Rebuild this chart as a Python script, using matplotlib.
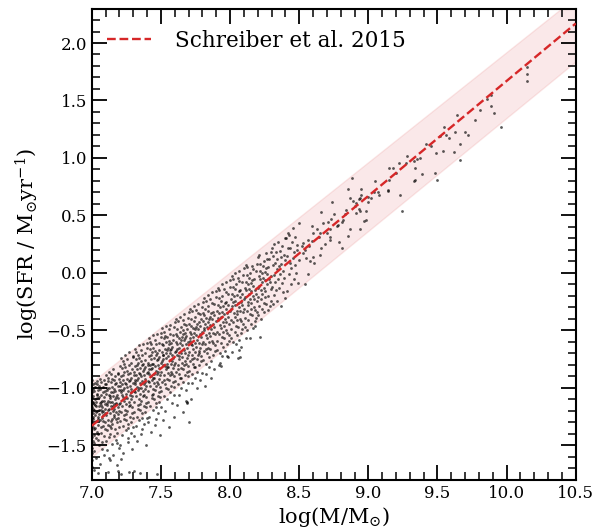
import matplotlib
matplotlib.use("Agg")
import matplotlib.pyplot as plt
import numpy as np

# ---------------- data ----------------
# Schreiber et al. 2015 main-sequence line and its shaded band
line_mass = [7.0, 10.5]
line_sfr = [-1.33, 2.17]
band_mass = [7.0, 10.5]
band_upper = [-0.95, 2.40]
band_lower = [-1.60, 1.84]

# galaxies (log M, log SFR), grouped by mass strips
gal_700 = [(7.002,-1.04),(7.004,-1.31),(7.001,-1.17),(7.006,-0.97),(7.003,-1.52),(7.008,-1.22),(7.005,-1.09),(7.001,-1.43),(7.009,-1.12),(7.003,-1.63),
 (7.012,-1.01),(7.007,-1.27),(7.014,-1.19),(7.002,-0.93),(7.016,-1.36),(7.011,-1.07),(7.004,-1.57),(7.019,-1.14),(7.006,-1.25),(7.021,-0.96),
 (7.013,-1.48),(7.024,-1.10),(7.009,-1.34),(7.027,-1.21),(7.017,-1.03),(7.001,-1.69),(7.029,-1.29),(7.022,-0.99),(7.031,-1.16),(7.018,-1.41),
 (7.034,-1.06),(7.026,-1.24),(7.037,-0.94),(7.008,-1.18),(7.039,-1.38),(7.032,-1.12),(7.042,-1.27),(7.015,-1.55),(7.044,-1.02),(7.036,-1.20),
 (7.047,-1.45),(7.041,-1.09),(7.049,-1.16),(7.028,-1.61),(7.052,-0.98),(7.046,-1.32),(7.054,-1.23),(7.038,-1.05),(7.057,-1.13),(7.051,-1.50),
 (7.059,-0.92),(7.062,-1.28),(7.055,-1.08),(7.064,-1.19),(7.048,-1.74),(7.067,-1.39),(7.061,-1.01),(7.069,-1.15),(7.072,-1.26),(7.066,-0.95),
 (7.074,-1.11),(7.077,-1.47),(7.071,-1.21),(7.079,-1.04),(7.082,-1.33),(7.076,-1.17),(7.084,-0.99),(7.087,-1.58),(7.081,-1.24),(7.089,-1.08),
 (7.092,-1.36),(7.086,-0.93),(7.094,-1.14),(7.097,-1.22),(7.091,-1.42),(7.099,-1.03),(7.096,-1.30),(7.058,-1.66),(7.033,-1.44),(7.073,-1.53),
 (7.005,-1.00),(7.011,-1.13),(7.023,-1.35),(7.043,-1.25),(7.063,-1.12),(7.083,-1.20),(7.007,-1.46),(7.035,-0.97),(7.068,-1.06),(7.093,-0.97),
 (7.003,-1.26),(7.025,-1.15),(7.045,-1.40),(7.065,-1.34),(7.085,-1.11),(7.013,-1.71),(7.053,-1.19),(7.078,-1.29),(7.098,-1.18),(7.001,-1.12)]
gal_floor = [(7.118,-1.73),(7.192,-1.72),(7.214,-1.75),(7.268,-1.73),(7.302,-1.72),(7.347,-1.74),(7.468,-1.75)]
gal_710 = [(7.101,-0.89),(7.103,-1.24),(7.106,-1.05),(7.108,-1.37),(7.104,-0.97),(7.111,-1.15),(7.113,-1.54),(7.109,-1.02),(7.116,-1.28),(7.118,-0.91),
 (7.114,-1.11),(7.121,-1.43),(7.123,-1.06),(7.119,-1.19),(7.126,-0.86),(7.128,-1.33),(7.124,-1.00),(7.131,-1.22),(7.133,-1.63),(7.129,-1.09),
 (7.136,-0.95),(7.138,-1.16),(7.134,-1.40),(7.141,-1.04),(7.143,-1.27),(7.139,-0.88),(7.146,-1.12),(7.148,-1.49),(7.144,-0.99),(7.151,-1.20),
 (7.153,-1.07),(7.149,-1.31),(7.156,-0.84),(7.158,-1.14),(7.154,-1.58),(7.161,-1.01),(7.163,-1.25),(7.159,-0.93),(7.166,-1.10),(7.168,-1.36),
 (7.164,-1.18),(7.171,-0.90),(7.173,-1.45),(7.169,-1.03),(7.176,-1.21),(7.178,-0.96),(7.174,-1.13),(7.181,-1.30),(7.183,-1.67),(7.179,-1.06),
 (7.186,-0.87),(7.188,-1.17),(7.184,-1.39),(7.191,-0.98),(7.193,-1.23),(7.189,-1.09),(7.196,-1.52),(7.198,-0.92),(7.194,-1.14),(7.199,-1.34),
 (7.107,-1.13),(7.117,-0.94),(7.127,-1.18),(7.137,-1.29),(7.147,-0.92),(7.157,-1.24),(7.167,-0.97),(7.177,-1.08),(7.187,-1.26),(7.197,-1.02),
 (7.102,-1.46),(7.122,-1.61),(7.142,-1.35),(7.162,-1.42),(7.182,-1.48),(7.112,-1.00),(7.132,-1.07),(7.152,-1.16),(7.172,-1.27),(7.192,-0.88),
 (7.115,-1.32),(7.135,-1.12),(7.155,-1.04),(7.175,-1.14),(7.195,-1.20)]
gal_720 = [(7.201,-0.81),(7.204,-1.13),(7.206,-0.95),(7.203,-1.29),(7.209,-1.04),(7.211,-0.74),(7.208,-1.21),(7.214,-0.90),(7.216,-1.41),(7.213,-1.02),
 (7.219,-0.83),(7.221,-1.16),(7.218,-0.97),(7.224,-1.33),(7.226,-1.08),(7.223,-0.77),(7.229,-0.93),(7.231,-1.24),(7.228,-1.57),(7.234,-1.00),
 (7.236,-0.86),(7.233,-1.11),(7.239,-0.71),(7.241,-1.19),(7.238,-0.96),(7.244,-1.37),(7.246,-1.05),(7.243,-0.82),(7.249,-1.14),(7.251,-0.92),
 (7.248,-1.28),(7.254,-0.99),(7.256,-0.75),(7.253,-1.09),(7.259,-1.47),(7.261,-0.88),(7.258,-1.20),(7.264,-1.03),(7.266,-0.80),(7.263,-1.31),
 (7.269,-0.94),(7.271,-1.12),(7.268,-0.69),(7.274,-1.06),(7.276,-1.25),(7.273,-0.87),(7.279,-0.98),(7.281,-1.39),(7.278,-1.15),(7.284,-0.78),
 (7.286,-1.01),(7.283,-0.91),(7.289,-1.22),(7.291,-1.53),(7.288,-0.84),(7.294,-1.07),(7.296,-0.73),(7.293,-1.17),(7.299,-0.96),(7.298,-1.34),
 (7.205,-1.50),(7.225,-0.89),(7.245,-1.23),(7.265,-1.44),(7.285,-1.10),(7.215,-1.06),(7.235,-1.27),(7.255,-0.85),(7.275,-0.93),(7.295,-1.26),
 (7.207,-0.98),(7.227,-1.02),(7.247,-0.97),(7.267,-1.16),(7.287,-1.30),(7.212,-1.62),(7.242,-1.09),(7.262,-1.35),(7.282,-1.04),(7.232,-0.79)]
gal_730 = [(7.301,-0.72),(7.303,-1.03),(7.306,-0.86),(7.304,-1.21),(7.309,-0.95),(7.311,-0.66),(7.308,-1.12),(7.314,-0.81),(7.316,-1.33),(7.313,-0.93),
 (7.319,-0.75),(7.321,-1.07),(7.318,-0.89),(7.324,-1.25),(7.326,-0.99),(7.323,-0.69),(7.329,-0.84),(7.331,-1.15),(7.328,-1.46),(7.334,-0.91),
 (7.336,-0.78),(7.333,-1.02),(7.339,-0.63),(7.341,-1.10),(7.338,-0.87),(7.344,-1.28),(7.346,-0.96),(7.343,-0.74),(7.349,-1.05),(7.351,-0.83),
 (7.348,-1.19),(7.354,-0.90),(7.356,-0.67),(7.353,-1.00),(7.359,-1.40),(7.361,-0.80),(7.358,-1.11),(7.364,-0.94),(7.366,-0.71),(7.363,-1.22),
 (7.369,-0.85),(7.371,-1.03),(7.368,-0.62),(7.374,-0.97),(7.376,-1.16),(7.373,-0.79),(7.379,-0.89),(7.381,-1.31),(7.378,-1.06),(7.384,-0.70),
 (7.386,-0.92),(7.383,-0.82),(7.389,-1.13),(7.391,-1.50),(7.388,-0.76),(7.394,-0.98),(7.396,-0.65),(7.393,-1.08),(7.399,-0.87),(7.398,-1.26),
 (7.305,-1.42),(7.325,-0.80),(7.345,-1.14),(7.365,-1.36),(7.385,-1.01),(7.315,-0.97),(7.335,-1.18),(7.355,-0.77),(7.375,-0.84),(7.395,-1.17),
 (7.307,-0.89),(7.327,-0.93),(7.347,-0.88),(7.367,-1.07),(7.387,-1.21),(7.312,-1.04),(7.342,-1.00),(7.362,-1.26),(7.382,-0.95),(7.332,-0.71)]
gal_740 = [(7.402,-0.61),(7.404,-0.94),(7.407,-0.78),(7.405,-1.12),(7.409,-0.86),(7.412,-0.57),(7.408,-1.03),(7.414,-0.72),(7.417,-1.25),(7.413,-0.84),
 (7.419,-0.66),(7.422,-0.98),(7.418,-0.80),(7.424,-1.16),(7.427,-0.90),(7.423,-0.60),(7.429,-0.75),(7.432,-1.06),(7.428,-1.38),(7.434,-0.83),
 (7.437,-0.69),(7.433,-0.93),(7.439,-0.54),(7.442,-1.01),(7.438,-0.79),(7.444,-1.19),(7.447,-0.88),(7.443,-0.65),(7.449,-0.96),(7.452,-0.74),
 (7.448,-1.10),(7.454,-0.81),(7.457,-0.58),(7.453,-0.91),(7.459,-1.32),(7.462,-0.71),(7.458,-1.02),(7.464,-0.85),(7.467,-0.62),(7.463,-1.13),
 (7.469,-0.76),(7.472,-0.95),(7.468,-0.53),(7.474,-0.88),(7.477,-1.07),(7.473,-0.70),(7.479,-0.80),(7.482,-1.22),(7.478,-0.97),(7.484,-0.61),
 (7.487,-0.83),(7.483,-0.73),(7.489,-1.04),(7.492,-1.41),(7.488,-0.67),(7.494,-0.89),(7.497,-0.56),(7.493,-0.99),(7.499,-0.78),(7.498,-1.17),
 (7.406,-1.30),(7.426,-0.71),(7.446,-1.05),(7.466,-1.27),(7.486,-0.92),(7.416,-0.88),(7.436,-1.09),(7.456,-0.68),(7.476,-0.75),(7.496,-1.08),
 (7.403,-0.80),(7.425,-0.84),(7.445,-0.79),(7.465,-0.98),(7.485,-1.12),(7.411,-0.95),(7.441,-0.91),(7.461,-1.17),(7.481,-0.86),(7.431,-0.62)]
gal_750 = [(7.501,-0.52),(7.504,-0.86),(7.506,-0.69),(7.503,-1.03),(7.509,-0.77),(7.511,-0.48),(7.508,-0.95),(7.514,-0.63),(7.516,-1.28),(7.513,-0.75),
 (7.519,-0.57),(7.521,-0.89),(7.518,-0.71),(7.524,-1.07),(7.526,-0.81),(7.523,-0.51),(7.529,-0.66),(7.531,-0.97),(7.528,-1.20),(7.534,-0.74),
 (7.536,-0.60),(7.533,-0.84),(7.539,-0.46),(7.541,-0.92),(7.538,-0.70),(7.544,-1.10),(7.546,-0.79),(7.543,-0.56),(7.549,-0.87),(7.551,-0.65),
 (7.548,-1.01),(7.554,-0.72),(7.556,-0.49),(7.553,-0.82),(7.559,-1.34),(7.561,-0.62),(7.558,-0.93),(7.564,-0.76),(7.566,-0.53),(7.563,-1.04),
 (7.569,-0.67),(7.571,-0.86),(7.568,-0.45),(7.574,-0.79),(7.576,-0.98),(7.573,-0.61),(7.579,-0.71),(7.581,-1.13),(7.578,-0.88),(7.584,-0.54),
 (7.586,-0.74),(7.583,-0.64),(7.589,-0.95),(7.591,-1.25),(7.588,-0.58),(7.594,-0.80),(7.596,-0.47),(7.593,-0.90),(7.599,-0.69),(7.598,-1.06),
 (7.505,-0.62),(7.525,-0.93),(7.545,-0.67),(7.565,-0.89),(7.585,-0.83),(7.515,-0.80),(7.535,-1.00),(7.555,-0.59),(7.575,-0.66),(7.595,-0.99),
 (7.512,-0.71),(7.542,-0.82),(7.562,-0.70),(7.582,-0.77),(7.532,-0.55)]
gal_760 = [(7.602,-0.43),(7.604,-0.78),(7.607,-0.60),(7.605,-0.94),(7.609,-0.68),(7.612,-0.40),(7.608,-0.86),(7.614,-0.55),(7.617,-1.15),(7.613,-0.66),
 (7.619,-0.49),(7.622,-0.80),(7.618,-0.62),(7.624,-0.97),(7.627,-0.72),(7.623,-0.42),(7.629,-0.57),(7.632,-0.88),(7.628,-1.06),(7.634,-0.65),
 (7.637,-0.51),(7.633,-0.75),(7.639,-0.38),(7.642,-0.83),(7.638,-0.61),(7.644,-1.00),(7.647,-0.70),(7.643,-0.47),(7.649,-0.78),(7.652,-0.56),
 (7.648,-0.91),(7.654,-0.63),(7.657,-0.41),(7.653,-0.73),(7.659,-1.21),(7.662,-0.53),(7.658,-0.84),(7.664,-0.67),(7.667,-0.44),(7.663,-0.95),
 (7.669,-0.58),(7.672,-0.77),(7.668,-0.36),(7.674,-0.70),(7.677,-0.89),(7.673,-0.52),(7.679,-0.62),(7.682,-1.02),(7.678,-0.79),(7.684,-0.45),
 (7.687,-0.65),(7.683,-0.55),(7.689,-0.86),(7.692,-1.12),(7.688,-0.49),(7.694,-0.71),(7.697,-0.39),(7.693,-0.81),(7.699,-0.60),(7.698,-0.96),
 (7.606,-0.53),(7.626,-0.84),(7.646,-0.58),(7.666,-0.80),(7.686,-0.74),(7.616,-0.71),(7.636,-0.91),(7.656,-0.50),(7.676,-0.57),(7.696,-0.90),
 (7.702,-1.30)]
gal_770 = [(7.701,-0.34),(7.704,-0.69),(7.707,-0.51),(7.705,-0.85),(7.709,-0.59),(7.712,-0.31),(7.708,-0.77),(7.714,-0.46),(7.717,-1.10),(7.713,-0.57),
 (7.719,-0.40),(7.722,-0.71),(7.718,-0.53),(7.724,-0.88),(7.727,-0.63),(7.723,-0.33),(7.729,-0.48),(7.732,-0.79),(7.728,-0.96),(7.734,-0.56),
 (7.737,-0.42),(7.733,-0.66),(7.739,-0.29),(7.742,-0.74),(7.738,-0.52),(7.744,-0.91),(7.747,-0.61),(7.743,-0.38),(7.749,-0.69),(7.752,-0.47),
 (7.748,-0.82),(7.754,-0.54),(7.757,-0.32),(7.753,-0.64),(7.759,-1.00),(7.762,-0.44),(7.758,-0.75),(7.764,-0.58),(7.767,-0.35),(7.763,-0.86),
 (7.769,-0.49),(7.772,-0.68),(7.768,-0.27),(7.774,-0.61),(7.777,-0.80),(7.773,-0.43),(7.779,-0.53),(7.782,-0.93),(7.778,-0.70),(7.784,-0.36),
 (7.787,-0.56),(7.783,-0.46),(7.789,-0.77),(7.788,-0.40),(7.794,-0.62),(7.797,-0.30),(7.793,-0.72),(7.799,-0.51),(7.798,-0.87),
 (7.706,-0.44),(7.726,-0.75),(7.746,-0.49),(7.766,-0.71),(7.786,-0.65),(7.716,-0.62),(7.736,-0.82),(7.681,-1.11),(7.692,-1.13)]
gal_780 = [(7.801,-0.25),(7.804,-0.60),(7.807,-0.42),(7.805,-0.76),(7.809,-0.50),(7.812,-0.22),(7.808,-0.68),(7.814,-0.37),(7.817,-0.98),(7.813,-0.48),
 (7.819,-0.31),(7.822,-0.62),(7.818,-0.44),(7.824,-0.79),(7.827,-0.54),(7.823,-0.24),(7.829,-0.39),(7.832,-0.70),(7.828,-0.88),(7.834,-0.47),
 (7.837,-0.33),(7.833,-0.57),(7.839,-0.19),(7.842,-0.65),(7.838,-0.43),(7.844,-0.82),(7.847,-0.52),(7.843,-0.29),(7.849,-0.60),(7.852,-0.38),
 (7.848,-0.73),(7.854,-0.45),(7.857,-0.23),(7.853,-0.55),(7.859,-0.91),(7.862,-0.35),(7.858,-0.66),(7.864,-0.49),(7.867,-0.26),(7.863,-0.77),
 (7.869,-0.40),(7.872,-0.59),(7.868,-0.17),(7.874,-0.52),(7.877,-0.71),(7.873,-0.34),(7.879,-0.44),(7.882,-0.84),(7.878,-0.61),(7.884,-0.27),
 (7.887,-0.47),(7.883,-0.37),(7.889,-0.68),(7.894,-0.53),(7.897,-0.21),(7.893,-0.63),(7.899,-0.42),(7.806,-0.35),(7.826,-0.66),(7.846,-0.40)]
gal_790 = [(7.901,-0.16),(7.904,-0.51),(7.907,-0.33),(7.905,-0.67),(7.909,-0.41),(7.912,-0.13),(7.908,-0.59),(7.914,-0.28),(7.917,-0.80),(7.913,-0.39),
 (7.919,-0.22),(7.922,-0.53),(7.918,-0.35),(7.924,-0.70),(7.927,-0.45),(7.923,-0.15),(7.929,-0.30),(7.932,-0.61),(7.928,-0.78),(7.934,-0.38),
 (7.937,-0.24),(7.933,-0.48),(7.939,-0.10),(7.942,-0.56),(7.938,-0.34),(7.944,-0.72),(7.947,-0.43),(7.943,-0.20),(7.949,-0.51),(7.952,-0.29),
 (7.948,-0.64),(7.954,-0.36),(7.957,-0.14),(7.953,-0.46),(7.962,-0.26),(7.958,-0.57),(7.964,-0.40),(7.967,-0.17),(7.963,-0.68),(7.969,-0.31),
 (7.972,-0.50),(7.968,-0.08),(7.974,-0.43),(7.977,-0.62),(7.973,-0.25),(7.979,-0.35),(7.982,-0.73),(7.978,-0.52),(7.984,-0.18),(7.987,-0.38),
 (7.983,-0.28),(7.989,-0.59),(7.994,-0.44),(7.997,-0.12),(7.993,-0.54),(7.999,-0.33),(7.931,-0.81),(7.975,-0.72)]
gal_800 = [(8.001,-0.06),(8.004,-0.41),(8.007,-0.23),(8.005,-0.57),(8.009,-0.31),(8.012,-0.03),(8.008,-0.49),(8.014,-0.18),(8.017,-0.69),(8.013,-0.29),
 (8.019,-0.12),(8.022,-0.43),(8.018,-0.25),(8.024,-0.60),(8.027,-0.35),(8.023,-0.05),(8.029,-0.20),(8.032,-0.51),(8.034,-0.28),(8.037,-0.14),
 (8.033,-0.38),(8.039,0.00),(8.042,-0.46),(8.038,-0.24),(8.044,-0.62),(8.047,-0.33),(8.043,-0.10),(8.049,-0.41),(8.052,-0.19),(8.048,-0.54),
 (8.054,-0.26),(8.057,-0.04),(8.053,-0.36),(8.059,-0.74),(8.062,-0.16),(8.058,-0.47),(8.064,-0.30),(8.067,-0.07),(8.063,-0.58),(8.069,-0.21),
 (8.072,-0.40),(8.068,0.02),(8.074,-0.33),(8.077,-0.52),(8.073,-0.15),(8.079,-0.25),(8.082,-0.64),(8.078,-0.42),(8.084,-0.08),(8.087,-0.28),
 (8.083,-0.18),(8.089,-0.49),(8.094,-0.34),(8.097,-0.02),(8.093,-0.44),(8.099,-0.23),(8.065,-0.67),(8.071,-0.73)]
gal_810 = [(8.101,0.04),(8.104,-0.31),(8.107,-0.13),(8.105,-0.47),(8.109,-0.21),(8.112,0.07),(8.108,-0.39),(8.114,-0.08),(8.113,-0.57),(8.119,-0.02),
 (8.122,-0.33),(8.118,-0.15),(8.124,-0.50),(8.127,-0.25),(8.123,0.05),(8.129,-0.10),(8.132,-0.41),(8.134,-0.18),(8.137,-0.04),(8.133,-0.28),
 (8.142,-0.36),(8.138,-0.14),(8.144,-0.57),(8.147,-0.23),(8.143,0.00),(8.149,-0.31),(8.152,-0.09),(8.148,-0.44),(8.154,-0.16),(8.157,0.06),
 (8.153,-0.26),(8.162,-0.06),(8.158,-0.37),(8.164,-0.20),(8.167,0.03),(8.163,-0.48),(8.169,-0.11),(8.172,-0.30),(8.174,-0.23),(8.177,-0.42),
 (8.173,-0.05),(8.179,-0.15),(8.182,-0.46),(8.178,-0.32),(8.184,0.02),(8.187,-0.18),(8.189,-0.39),(8.194,-0.24),(8.197,0.08),(8.193,-0.34),
 (8.199,-0.13)]
gal_820 = [(8.201,0.14),(8.204,-0.21),(8.207,-0.03),(8.205,-0.37),(8.209,-0.11),(8.212,0.16),(8.208,-0.29),(8.214,0.02),(8.216,-0.56),(8.219,0.08),
 (8.222,-0.23),(8.218,-0.05),(8.224,-0.40),(8.227,-0.15),(8.229,0.00),(8.232,-0.31),(8.234,-0.08),(8.237,0.06),(8.233,-0.18),(8.242,-0.26),
 (8.238,-0.04),(8.247,-0.13),(8.243,0.10),(8.249,-0.21),(8.252,0.01),(8.248,-0.34),(8.254,-0.06),(8.257,0.17),(8.253,-0.16),(8.262,0.04),
 (8.258,-0.27),(8.264,-0.10),(8.267,0.12),(8.269,-0.01),(8.272,-0.20),(8.277,-0.32),(8.273,0.05),(8.279,-0.05),(8.284,0.12),(8.287,-0.08),
 (8.289,-0.29),(8.294,-0.14),(8.297,0.18),(8.293,-0.24),(8.299,-0.03)]
gal_830 = [(8.301,0.22),(8.305,-0.12),(8.307,0.07),(8.309,-0.27),(8.312,0.15),(8.314,-0.02),(8.318,-0.19),(8.321,0.25),(8.324,0.09),(8.327,-0.08),
 (8.331,0.18),(8.334,-0.15),(8.337,0.03),(8.339,-0.24),(8.342,0.12),(8.346,-0.05),(8.349,0.27),(8.352,0.06),(8.356,-0.13),(8.358,0.19),
 (8.362,-0.01),(8.365,0.14),(8.368,-0.29),(8.371,0.08),(8.374,-0.09),(8.377,0.23),(8.381,0.02),(8.384,-0.17),(8.387,0.16),(8.391,-0.04),
 (8.394,0.11),(8.397,-0.22),(8.399,0.30)]
gal_840 = [(8.405,0.30),(8.412,0.15),(8.408,-0.16),(8.418,0.22),(8.423,-0.01),(8.427,0.33),(8.431,0.09),(8.436,0.22),(8.441,0.04),(8.444,-0.10),
 (8.449,0.27),(8.452,0.13),(8.458,0.39),(8.461,0.18),(8.467,0.07),(8.472,0.31),(8.476,0.00),(8.481,0.24),(8.486,0.20),(8.489,-0.09),
 (8.496,0.43),(8.498,0.11),(8.421,0.35),(8.463,-0.05),(8.53,0.26),(8.54,-0.10),(8.56,0.29),(8.56,-0.01),(8.59,0.41)]
gal_high = [(10.15,1.79),(10.15,1.73),(10.15,1.67),(9.96,1.27),(9.89,1.455),(9.91,1.39),(9.89,1.55),(9.86,1.51),(9.81,1.42),(9.77,1.33),
 (9.64,1.37),(9.70,1.23),(9.72,1.20),(9.63,1.23),(9.66,1.12),(9.62,1.05),(9.66,0.98),(9.55,1.27),(9.56,1.20),(9.52,1.19),
 (9.58,1.17),(9.54,1.06),(9.49,1.04),(9.48,0.87),(9.50,0.81),(9.42,1.125),(9.45,1.10),(9.39,0.86),(9.35,0.99),(9.33,0.97),
 (9.34,0.91),(9.37,1.00),(9.33,0.80),(9.34,0.81),(9.28,1.02),(9.27,0.96),(9.22,0.96),(9.23,0.68),(9.24,0.54),(9.20,0.87),
 (9.15,0.91),(9.18,0.91),(9.15,0.81),(9.14,0.71),(9.14,0.72),(9.05,0.80),(9.07,0.70),(9.08,0.68),(9.04,0.70),(9.00,0.66),
 (9.02,0.65),(9.00,0.62),(8.98,0.54),(8.97,0.45),(8.95,0.73),(8.95,0.68),(8.94,0.65),(8.93,0.64),(8.91,0.61),(8.89,0.63),
 (8.90,0.58),(8.93,0.56),(8.94,0.54),(8.91,0.52),(8.88,0.83),(8.85,0.73),(8.87,0.65),(8.84,0.55),(8.83,0.51),(8.82,0.46),
 (8.81,0.44),(8.78,0.42),(8.77,0.41),(8.75,0.51),(8.74,0.62),(8.73,0.47),(8.71,0.44),(8.70,0.35),(8.67,0.43),(8.66,0.53),
 (8.65,0.35),(8.64,0.31),(8.63,0.38),(8.60,0.35),(8.59,0.28),(8.57,0.23),(8.54,0.20),(8.53,0.17),(8.52,0.23),(8.79,0.27),
 (8.81,0.22),(8.85,0.32),(8.87,0.38),(8.94,0.38),(8.98,0.46),(8.72,0.38),(8.72,0.31),(8.72,0.29),(8.69,0.25),(8.66,0.22),
 (8.65,0.16),(8.60,0.14),(8.61,0.09),(8.58,0.10),(8.55,0.13)]

galaxies = (gal_700 + gal_floor + gal_710 + gal_720 + gal_730 + gal_740 + gal_750 + gal_760
            + gal_770 + gal_780 + gal_790 + gal_800 + gal_810 + gal_820 + gal_830 + gal_840 + gal_high)
log_mass = np.array([g[0] for g in galaxies])
log_sfr = np.array([g[1] for g in galaxies])

# ---------------- plotting ----------------
plt.rcParams['font.family'] = 'DejaVu Serif'
plt.rcParams['mathtext.fontset'] = 'dejavuserif'

fig = plt.figure(figsize=(6.08, 5.32), dpi=100)
ax = fig.add_axes([0.151, 0.098, 0.796, 0.886])

red = '#d62728'
ax.fill_between(band_mass, band_lower, band_upper, color=red, alpha=0.1, lw=1, zorder=1)
ax.scatter(log_mass, log_sfr, s=4, c='black', alpha=0.65, linewidths=0, zorder=2)
ax.plot(line_mass, line_sfr, '--', color=red, lw=1.7, zorder=3, label='Schreiber et al. 2015')

ax.set_xlim(7.0, 10.5)
ax.set_ylim(-1.8, 2.3)
ax.set_xticks([7.0, 7.5, 8.0, 8.5, 9.0, 9.5, 10.0, 10.5])
ax.set_yticks([-1.5, -1.0, -0.5, 0.0, 0.5, 1.0, 1.5, 2.0])
ax.xaxis.set_minor_locator(matplotlib.ticker.MultipleLocator(0.1))
ax.yaxis.set_minor_locator(matplotlib.ticker.MultipleLocator(0.1))
ax.tick_params(which='both', direction='in', top=True, right=True, labelsize=12)
ax.tick_params(which='major', length=11, width=1.3)
ax.tick_params(which='minor', length=6, width=1.1)
for sp in ax.spines.values():
    sp.set_linewidth(1.5)

ax.set_xlabel(r'log(M/M$_{\odot}$)', fontsize=15, labelpad=2)
ax.set_ylabel(r'log(SFR / M$_{\odot}$yr$^{-1}$)', fontsize=15, labelpad=4)
ax.legend(loc='upper left', bbox_to_anchor=(0.0, 0.987), frameon=False, fontsize=15.5,
          handlelength=2.05, handletextpad=1.1, borderaxespad=0.3)

fig.savefig('out.png', dpi=100)
